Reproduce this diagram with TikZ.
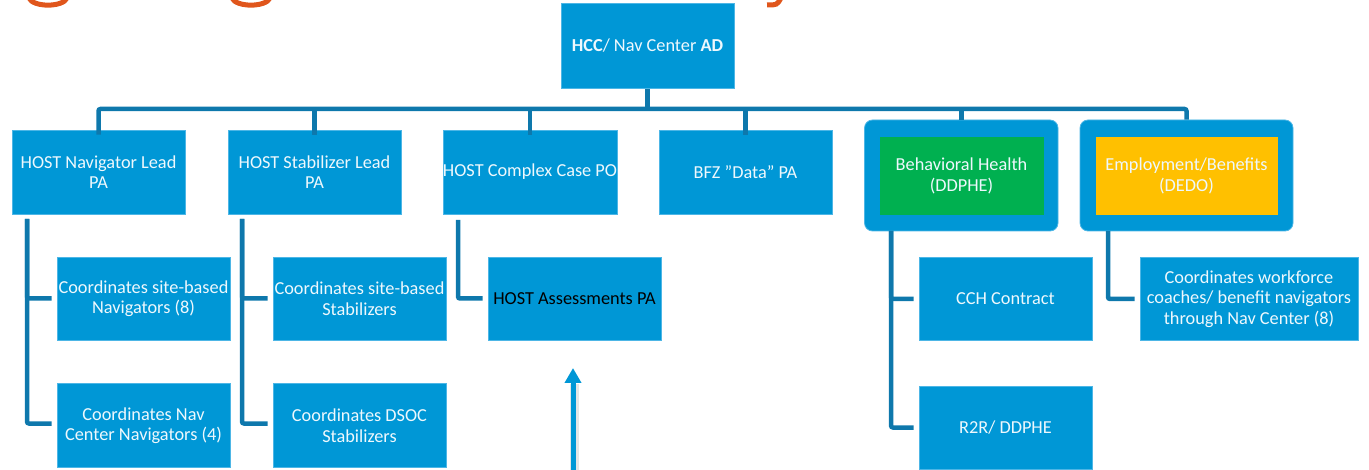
\documentclass[tikz,border=0pt]{standalone}
\usepackage{fontspec}
\setmainfont{Carlito}[Ligatures=Common]
\usetikzlibrary{arrows.meta}
\definecolor{boxblue}{HTML}{0097D6}
\definecolor{boxedge}{HTML}{4DB6E6}
\definecolor{connblue}{HTML}{0E78AC}
\definecolor{bhgreen}{HTML}{00B050}
\definecolor{empyellow}{HTML}{FFC000}
\definecolor{titleorange}{HTML}{E0561C}
\definecolor{boxtext}{HTML}{EEF8FD}
\begin{document}
\begin{tikzpicture}[x=1pt,y=-1pt,
  box/.style={rectangle, fill=boxblue, draw=boxedge, line width=0.8pt, inner sep=0pt,
    align=center, text=boxtext, font=\fontsize{18.3}{20.5}\selectfont},
  outerbox/.style={rectangle, fill=boxblue, draw=boxedge, line width=0.8pt, rounded corners=8pt, inner sep=0pt},
  conn/.style={draw=connblue, line width=4.5pt, rounded corners=2pt},
  titlefrag/.style={draw=titleorange, line width=5pt}
]
\useasboundingbox (0,0) rectangle (1369,470);
% title fragments (descenders of cut-off title)
\draw[titlefrag] (29,-2) .. controls (33,7.5) and (63,7.5) .. (67,-2);
\draw[titlefrag] (232,-2) .. controls (236,7.5) and (266,7.5) .. (270,-2);
\draw[titlefrag] (781,-2) .. controls (777,5) .. (767,5);

% top
\node[box, minimum width=173pt, minimum height=85pt] (hcc) at (647.5,45.5) {\textbf{HCC}/ Nav Center \textbf{AD}};

% level 2
\node[box, minimum width=173pt, minimum height=84pt] (nav) at (98.5,172) {HOST Navigator Lead\\PA};
\node[box, minimum width=173pt, minimum height=84pt] (stab) at (314.5,172) {HOST Stabilizer Lead\\PA};
\node[box, minimum width=174pt, minimum height=84pt] (cplx) at (530,172) {HOST Complex Case PO};
\node[box, minimum width=173pt, minimum height=84pt] (bfz) at (745.5,172) {BFZ "Data" PA};
\node[outerbox, minimum width=193.5pt, minimum height=111pt] (bhout) at (961.25,175.5) {};
\node[box, fill=bhgreen, draw=bhgreen, minimum width=163pt, minimum height=76.5pt] (bh) at (961.5,175.75) {Behavioral Health\\(DDPHE)};
\node[outerbox, minimum width=213pt, minimum height=111pt] (empout) at (1186.5,175.5) {};
\node[box, fill=empyellow, draw=empyellow, minimum width=181pt, minimum height=76.5pt] (emp) at (1186.5,175.75) {Employment/Benefits\\(DEDO)};

% level 3
\node[box, minimum width=173pt, minimum height=83pt] (c1) at (143.5,298.5) {Coordinates site-based\\Navigators (8)};
\node[box, minimum width=173pt, minimum height=83pt] (c3) at (359.5,298.5) {Coordinates site-based\\Stabilizers};
\node[box, text=black, minimum width=173pt, minimum height=83pt] (ha) at (574.5,298.5) {HOST Assessments PA};
\node[box, minimum width=173pt, minimum height=83pt] (cch) at (1005.5,299) {CCH Contract};
\node[box, minimum width=218pt, minimum height=83pt] (wf) at (1249,299) {Coordinates workforce\\coaches/ benefit navigators\\through Nav Center (8)};

% level 4
\node[box, minimum width=173pt, minimum height=84pt] (c2) at (143.5,425.5) {Coordinates Nav\\Center Navigators (4)};
\node[box, minimum width=173pt, minimum height=84pt] (c4) at (359.5,425.5) {Coordinates DSOC\\Stabilizers};
\node[box, minimum width=173pt, minimum height=83pt] (r2r) at (1005.5,427.5) {R2R/ DDPHE};

% bus
\coordinate (bus) at (0,109);
\draw[conn, rounded corners=0pt] ([yshift=-1pt]hcc.south) -- (hcc.south |- bus);
\draw[conn] ([yshift=-5pt]nav.north) -- (nav.north |- bus) -- (empout.north |- bus) -- (empout.north);
\draw[conn] ([yshift=-5pt]stab.north) -- (stab.north |- bus);
\draw[conn] ([yshift=-5pt]cplx.north) -- (cplx.north |- bus);
\draw[conn] ([yshift=-5pt]bfz.north) -- (bfz.north |- bus);
\draw[conn] (bhout.north) -- (bhout.north |- bus);

% child trunks
\coordinate (navtrunk) at (27,219);
\draw[conn] (navtrunk) |- ([xshift=-5pt]c1.west);
\draw[conn] (navtrunk) |- ([xshift=-5pt,yshift=2pt]c2.west);
\coordinate (stabtrunk) at (242,219);
\draw[conn] (stabtrunk) |- ([xshift=-5pt]c3.west);
\draw[conn] (stabtrunk) |- ([xshift=-5pt,yshift=2pt]c4.west);
\coordinate (cplxtrunk) at (458,220);
\draw[conn] (cplxtrunk) |- ([xshift=-5pt]ha.west);
\coordinate (bhtrunk) at (891,231);
\draw[conn] (bhtrunk) |- ([xshift=-5pt]cch.west);
\draw[conn] (bhtrunk) |- ([xshift=-5pt]r2r.west);
\coordinate (emptrunk) at (1108,231);
\draw[conn] (emptrunk) |- ([xshift=-5pt]wf.west);

% arrow
\coordinate (arrowbase) at (573,472);
\coordinate (arrowtip) at (573,368);
\draw[draw=black!10, line width=9pt] ([xshift=1pt]arrowbase) -- ([xshift=1pt,yshift=-16pt]arrowtip);
\draw[draw=boxblue, line width=5pt, -{Triangle[width=16pt,length=15pt]}] (arrowbase) -- (arrowtip);
\end{tikzpicture}
\end{document}
